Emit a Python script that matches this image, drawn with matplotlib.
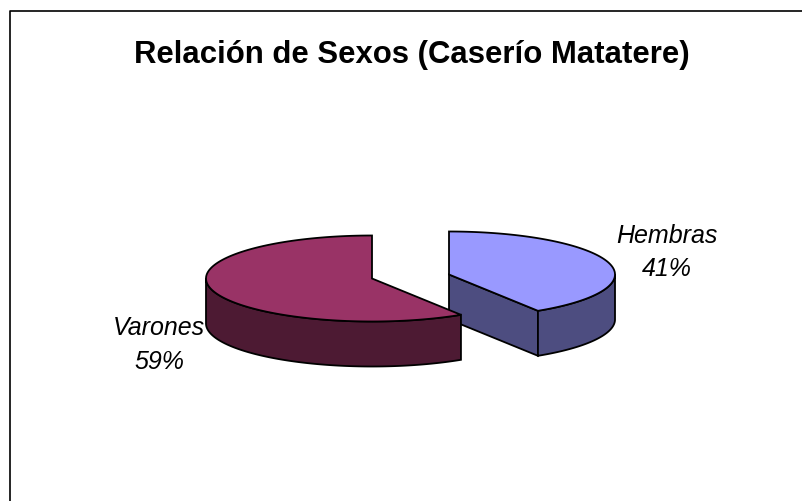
import numpy as np
import matplotlib
matplotlib.use("Agg")
import matplotlib.pyplot as plt
from matplotlib.patches import Polygon

plt.rcParams['font.family'] = ['Liberation Sans', 'DejaVu Sans']

categories = ["Hembras", "Varones"]
values = [41, 59]

top_colors = ["#9999ff", "#993366"]
side_colors = ["#4d4d80", "#4d1a33"]
centers = [(449, 275.5), (372, 279.5)]
label_pos = [(667, 252.5), (159, 345)]

RX = 166
RY = 43
DEPTH = 45


def rim(cx, cy, a0, a1):
    t = np.radians(np.linspace(a0, a1, 120))
    return np.column_stack([cx + RX * np.cos(t), cy - RY * np.sin(t)])


def draw_side(ax, pts, color):
    low = pts + [0, DEPTH]
    ax.add_patch(Polygon(np.vstack([pts, low[::-1]]), closed=True, fc=color, ec="black", lw=1.3))


fig = plt.figure(figsize=(8.02, 5.02), dpi=100)
ax = fig.add_axes([0, 0, 1, 1])
ax.set_xlim(0, 802)
ax.set_ylim(502, 0)
ax.axis("off")

# only the left and top of the frame show, the rest is cut off
ax.plot([9.5, 9.5, 802], [502, 12, 12], color="black", lw=1.2)

total = sum(values)
# hembras runs clockwise from 12 o'clock, varones takes the rest
sweep = 360 * values[0] / total
end_h = 90 - sweep

# hembras first, the varones slice sits in front of it
cx, cy = centers[0]
r = rim(cx, cy, end_h, 90)
draw_side(ax, np.array([[cx, cy], r[0]]), side_colors[0])
draw_side(ax, rim(cx, cy, end_h, 0), side_colors[0])
ax.add_patch(Polygon(np.vstack([[cx, cy], r]), closed=True, fc=top_colors[0], ec="black", lw=1.3))

cx, cy = centers[1]
r = rim(cx, cy, 90, 360 + end_h)
draw_side(ax, rim(cx, cy, 180, 360 + end_h), side_colors[1])
ax.add_patch(Polygon(np.vstack([[cx, cy], r]), closed=True, fc=top_colors[1], ec="black", lw=1.3))

for name, val, pos in zip(categories, values, label_pos):
    ax.text(pos[0], pos[1], f"{name}\n{val}%", ha="center", va="center",
            fontsize=18, style="italic", linespacing=1.5)

ax.text(412, 55.5, "Relación de Sexos (Caserío Matatere)", ha="center", va="center",
        fontsize=22.4, fontweight="bold")

fig.savefig("out.png", dpi=100)
